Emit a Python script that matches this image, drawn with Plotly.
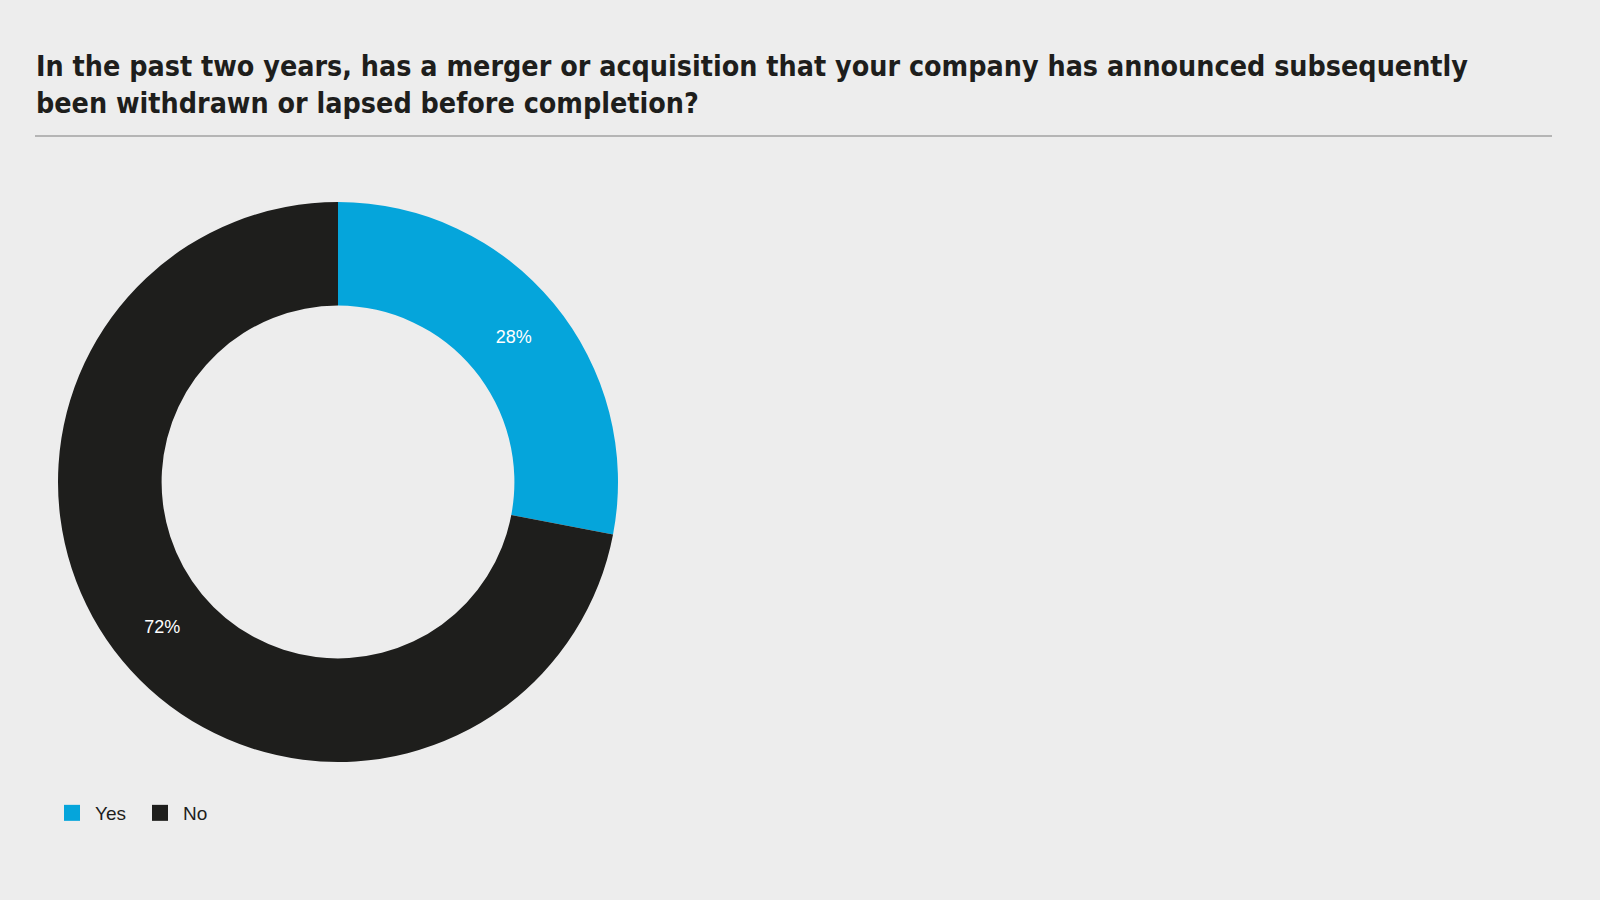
import plotly.graph_objects as go

labels = ["Yes", "No"]
values = [28, 72]
colors = ["#05a5db", "#1e1e1c"]
title_text = ("In the past two years, has a merger or acquisition that your company has announced subsequently"
              "<br>been withdrawn or lapsed before completion?")

W, H = 1600, 900
fig = go.Figure()
fig.add_trace(go.Pie(
    labels=labels, values=values, hole=0.63, sort=False, direction="clockwise", rotation=0,
    marker=dict(colors=colors, line=dict(width=0)),
    texttemplate="%{value}%", textposition="inside",
    insidetextorientation="horizontal",
    textfont=dict(color="white", size=18, family="Liberation Sans, Arial, sans-serif"),
    domain=dict(x=[58/W, 618/W], y=[1-762/H, 1-202/H]),
    hoverinfo="label+percent", showlegend=False,
))
# legend entries with larger square swatches
for lab, col in zip(labels, colors):
    fig.add_trace(go.Scatter(x=[None], y=[None], mode="markers", name=lab,
                             marker=dict(symbol="square", size=16, color=col), showlegend=True))
fig.update_xaxes(visible=False)
fig.update_yaxes(visible=False)

fig.add_annotation(text=title_text, xref="paper", yref="paper", x=34/W, y=1-48/H,
                   xanchor="left", yanchor="top", align="left", showarrow=False,
                   font=dict(family="DejaVu Sans Condensed, Liberation Sans Narrow, sans-serif",
                             size=28.4, color="#1e1e1c", weight="bold"))
fig.add_shape(type="line", xref="paper", yref="paper", x0=35/W, x1=1552/W, y0=1-136/H, y1=1-136/H,
              line=dict(color="#b5b5b5", width=2))
fig.update_layout(
    width=W, height=H, margin=dict(l=0, r=0, t=0, b=0),
    paper_bgcolor="#ededed", plot_bgcolor="#ededed",
    showlegend=True,
    legend=dict(orientation="h", x=49/W, y=1-813/H, xanchor="left", yanchor="middle",
                font=dict(family="Liberation Sans, Arial, sans-serif", size=19, color="#1e1e1c"),
                bgcolor="rgba(0,0,0,0)", itemsizing="trace", traceorder="normal",
                itemwidth=36, entrywidth=37, entrywidthmode="pixels"),
)
fig.write_html("out.html", config={"displayModeBar": False},
               post_script="document.body.style.margin='0';")
